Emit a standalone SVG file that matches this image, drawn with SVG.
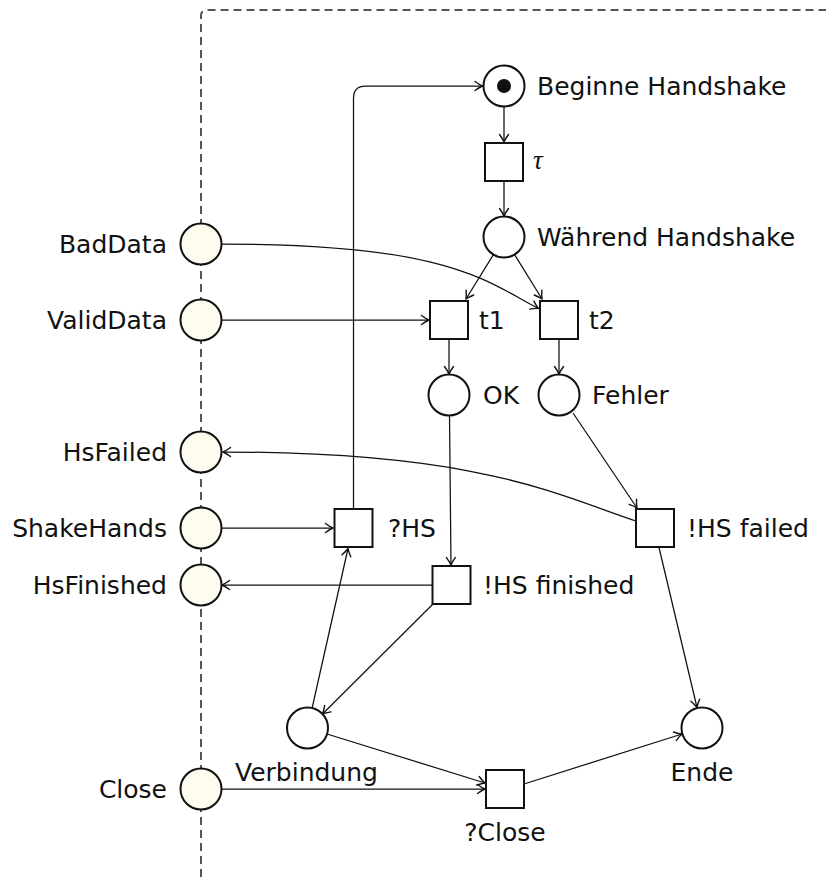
<svg xmlns="http://www.w3.org/2000/svg" width="826" height="878" viewBox="0 0 826 878">
  <style>
    .lbl { font-family: "DejaVu Sans", "Liberation Sans", sans-serif; font-size: 25px; fill: #111; }
    .end { text-anchor: end; }
    .mid { text-anchor: middle; }
    .greek { font-family: "Liberation Serif", "DejaVu Serif", serif; font-style: italic; font-size: 27px; fill: #111; }
    .place { fill: #ffffff; stroke: #111; stroke-width: 2; }
    .iface { fill: #fdfcef; stroke: #111; stroke-width: 2; }
    .trans { fill: #ffffff; stroke: #111; stroke-width: 2; }
    .arc { fill: none; stroke: #111; stroke-width: 1.25; marker-end: url(#tip); }
    .frame { fill: none; stroke: #555; stroke-width: 2; stroke-dasharray: 8 5; }
  </style>
  <defs>
    <!-- curved open arrow tip -->
    <marker id="tip" viewBox="-9 -6 11 12" refX="0" refY="0" markerWidth="11" markerHeight="12" markerUnits="userSpaceOnUse" orient="auto">
      <path d="M-7.5,-4.5 Q-3,-1.2 0,0 Q-3,1.2 -7.5,4.5" fill="none" stroke="#111" stroke-width="1.4" stroke-linecap="round" stroke-linejoin="round"/>
    </marker>
  </defs>

  <!-- component boundary -->
  <path class="frame" d="M201,890 L201,16 Q201,10 207,10 L830,10"/>

  <!-- arcs -->
  <g id="connectors">
    <path class="arc" d="M504,106.5 L504,142"/>
    <path class="arc" d="M504,181 L504,216"/>
    <path class="arc" d="M493.4,254.6 L466,299"/>
    <path class="arc" d="M514.6,254.6 L542,299"/>
    <path class="arc" d="M221.5,244 C451,244 487,282 538.5,308.5"/>
    <path class="arc" d="M221.5,320 L429,320"/>
    <path class="arc" d="M449,339 L449,374"/>
    <path class="arc" d="M559,339 L559,374"/>
    <path class="arc" d="M449.5,415 L451,565"/>
    <path class="arc" d="M573,413 L637,508"/>
    <path class="arc" d="M636,521 C560,496 482,452 223,452"/>
    <path class="arc" d="M221.5,528 L333,528"/>
    <path class="arc" d="M353.5,509 L353.5,98 Q353.5,86 365.5,86 L482.5,86"/>
    <path class="arc" d="M432,585 L222,585"/>
    <path class="arc" d="M433,604 L322.5,714"/>
    <path class="arc" d="M312,708.5 L348,548.5"/>
    <path class="arc" d="M327,734 L485,783"/>
    <path class="arc" d="M221.5,789 L485,789"/>
    <path class="arc" d="M524,784 L682,734"/>
    <path class="arc" d="M659,547.5 L697,707.5"/>
  </g>

  <!-- interface places -->
  <g id="BadData">
    <circle class="iface" cx="201" cy="244" r="20.5"/>
    <text class="lbl end" x="167" y="253">BadData</text>
  </g>
  <g id="ValidData">
    <circle class="iface" cx="201" cy="320" r="20.5"/>
    <text class="lbl end" x="167" y="329">ValidData</text>
  </g>
  <g id="HsFailed">
    <circle class="iface" cx="201" cy="452" r="20.5"/>
    <text class="lbl end" x="167" y="461">HsFailed</text>
  </g>
  <g id="ShakeHands">
    <circle class="iface" cx="201" cy="528" r="20.5"/>
    <text class="lbl end" x="167" y="537">ShakeHands</text>
  </g>
  <g id="HsFinished">
    <circle class="iface" cx="201" cy="585" r="20.5"/>
    <text class="lbl end" x="167" y="594">HsFinished</text>
  </g>
  <g id="Close">
    <circle class="iface" cx="201" cy="789" r="20.5"/>
    <text class="lbl end" x="167" y="798">Close</text>
  </g>

  <!-- internal places -->
  <g id="BeginneHandshake">
    <circle class="place" cx="504" cy="86" r="20.5"/>
    <circle cx="504" cy="86" r="7" fill="#111"/>
    <text class="lbl" x="537" y="95">Beginne Handshake</text>
  </g>
  <g id="WaehrendHandshake">
    <circle class="place" cx="504" cy="237" r="20.5"/>
    <text class="lbl" x="537" y="246">Während Handshake</text>
  </g>
  <g id="OK">
    <circle class="place" cx="449" cy="395" r="20.5"/>
    <text class="lbl" x="483" y="404">OK</text>
  </g>
  <g id="Fehler">
    <circle class="place" cx="559" cy="395" r="20.5"/>
    <text class="lbl" x="592" y="404">Fehler</text>
  </g>
  <g id="Verbindung">
    <circle class="place" cx="307.5" cy="728" r="20.5"/>
    <text class="lbl" x="235" y="781">Verbindung</text>
  </g>
  <g id="Ende">
    <circle class="place" cx="702" cy="728" r="20.5"/>
    <text class="lbl mid" x="702" y="781">Ende</text>
  </g>

  <!-- transitions -->
  <g id="tau">
    <rect class="trans" x="485" y="143" width="38" height="38"/>
    <text class="greek" x="533" y="169">τ</text>
  </g>
  <g id="t1">
    <rect class="trans" x="430" y="301" width="38" height="38"/>
    <text class="lbl" x="479" y="329">t1</text>
  </g>
  <g id="t2">
    <rect class="trans" x="540" y="301" width="38" height="38"/>
    <text class="lbl" x="589" y="329">t2</text>
  </g>
  <g id="ReceiveHS">
    <rect class="trans" x="334.5" y="509" width="38" height="38"/>
    <text class="lbl" x="388" y="537">?HS</text>
  </g>
  <g id="SendHSFinished">
    <rect class="trans" x="432.5" y="566" width="38" height="38"/>
    <text class="lbl" x="483" y="594">!HS finished</text>
  </g>
  <g id="SendHSFailed">
    <rect class="trans" x="636" y="509" width="38" height="38"/>
    <text class="lbl" x="687" y="537">!HS failed</text>
  </g>
  <g id="ReceiveClose">
    <rect class="trans" x="486" y="770" width="38" height="38"/>
    <text class="lbl mid" x="505" y="841">?Close</text>
  </g>
</svg>
